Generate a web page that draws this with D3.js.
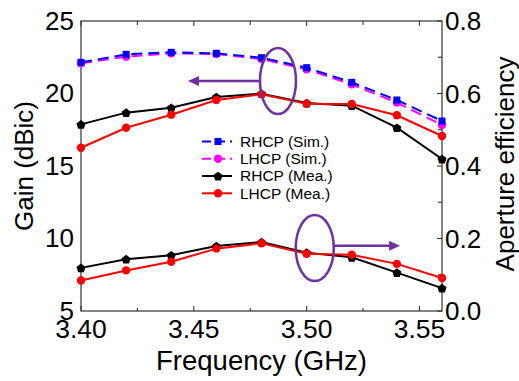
<!DOCTYPE html>
<html>
<head>
<meta charset="utf-8">
<script src="https://cdn.jsdelivr.net/npm/d3@7"></script>
<style>
html,body{margin:0;padding:0;background:#fff;}
svg{display:block;font-family:Arial,"Liberation Sans",sans-serif;}
</style>
</head>
<body>
<svg id="chart" width="519" height="381"></svg>
<script>
// ---- data ----
const freq = [3.40, 3.42, 3.44, 3.46, 3.48, 3.50, 3.52, 3.54, 3.56];
const rhcpSim = [22.15, 22.70, 22.84, 22.77, 22.47, 21.78, 20.77, 19.55, 18.10];
const lhcpSim = [22.08, 22.54, 22.77, 22.72, 22.38, 21.67, 20.63, 19.37, 17.83];
const rhcpMea = [17.87, 18.68, 19.02, 19.76, 19.99, 19.34, 19.16, 17.64, 15.48];
const lhcpMea = [16.26, 17.64, 18.54, 19.55, 19.94, 19.30, 19.28, 18.50, 17.07];
const rhcpEff = [0.119, 0.143, 0.154, 0.179, 0.190, 0.161, 0.148, 0.106, 0.063];
const lhcpEff = [0.084, 0.112, 0.136, 0.172, 0.187, 0.158, 0.155, 0.130, 0.091];
const xTicks = [3.40, 3.45, 3.50, 3.55];
const xTickLabels = ["3.40", "3.45", "3.50", "3.55"];
const yLeftTicks = [5, 10, 15, 20, 25];
const yRightTicks = [0.0, 0.2, 0.4, 0.6, 0.8];
const legendLabels = ["RHCP (Sim.)", "LHCP (Sim.)", "RHCP (Mea.)", "LHCP (Mea.)"];

// ---- layout ----
const L = 81, R = 442, T = 21, B = 311;
const svg = d3.select("#chart");
const x = d3.scaleLinear().domain([3.40, 3.56]).range([L, R]);
const yL = d3.scaleLinear().domain([5, 25]).range([B, T]);
const yR = d3.scaleLinear().domain([0, 0.8]).range([B, T]);

const FONT = 26;
const axisColor = "#333";

// frame
svg.append("rect").attr("x", L).attr("y", T).attr("width", R - L).attr("height", B - T)
  .attr("fill", "none").attr("stroke", axisColor).attr("stroke-width", 1.2);

// x ticks (bottom & top, inward)
const xMinor = d3.range(3.425, 3.56, 0.05);
const tickG = svg.append("g").attr("stroke", axisColor).attr("stroke-width", 1.1);
xTicks.forEach(v => {
  tickG.append("line").attr("x1", x(v)).attr("x2", x(v)).attr("y1", B).attr("y2", B - 5);
  tickG.append("line").attr("x1", x(v)).attr("x2", x(v)).attr("y1", T).attr("y2", T + 5);
});
xMinor.forEach(v => {
  tickG.append("line").attr("x1", x(v)).attr("x2", x(v)).attr("y1", B).attr("y2", B - 3);
  tickG.append("line").attr("x1", x(v)).attr("x2", x(v)).attr("y1", T).attr("y2", T + 4);
});
// right ticks
yRightTicks.forEach(v => {
  tickG.append("line").attr("x1", R).attr("x2", R - 5).attr("y1", yR(v)).attr("y2", yR(v));
});
d3.range(0.1, 0.8, 0.2).forEach(v => {
  tickG.append("line").attr("x1", R).attr("x2", R - 4).attr("y1", yR(v)).attr("y2", yR(v));
});

// tick labels
const labelG = svg.append("g").attr("font-size", FONT).attr("fill", "#000");
xTicks.forEach((v, i) => {
  labelG.append("text").attr("x", x(v)).attr("y", 338).attr("text-anchor", "middle")
    .attr("font-size", 26.5).text(xTickLabels[i]);
});
yLeftTicks.forEach(v => {
  labelG.append("text").attr("x", 74).attr("y", yL(v)).attr("dy", "0.33em").attr("text-anchor", "end").text(v);
});
yRightTicks.forEach(v => {
  labelG.append("text").attr("x", 445).attr("y", yR(v)).attr("dy", "0.35em").attr("text-anchor", "start").text(v.toFixed(1));
});

// axis titles
svg.append("text").attr("x", (L + R) / 2).attr("y", 370).attr("text-anchor", "middle")
  .attr("font-size", 27.5).text("Frequency (GHz)");
svg.append("text").attr("transform", `translate(33,${(T + B) / 2}) rotate(-90)`).attr("text-anchor", "middle")
  .attr("font-size", FONT).text("Gain (dBic)");
svg.append("text").attr("transform", `translate(514,${(T + B) / 2 - 2}) rotate(-90)`).attr("text-anchor", "middle")
  .attr("font-size", FONT).text("Aperture efficiency");

// markers
const pentagon = r => {
  const pts = d3.range(5).map(i => {
    const a = -Math.PI / 2 + i * 2 * Math.PI / 5;
    return [r * Math.cos(a), r * Math.sin(a)];
  });
  return "M" + pts.map(p => p.join(",")).join("L") + "Z";
};
function marker(g, type, color, cx, cy) {
  if (type === "square") {
    g.append("rect").attr("x", cx - 3.5).attr("y", cy - 3.5).attr("width", 7).attr("height", 7).attr("fill", color);
  } else if (type === "circle") {
    g.append("circle").attr("cx", cx).attr("cy", cy).attr("r", 4.2).attr("fill", color);
  } else {
    g.append("path").attr("transform", `translate(${cx},${cy + 0.5})`).attr("d", pentagon(4.8)).attr("fill", color);
  }
}

const series = [
  {vals: rhcpSim, y: yL, color: "#0000ff", dash: "11,6", m: "square"},
  {vals: lhcpSim, y: yL, color: "#ff00ff", dash: "11,6", m: "circle"},
  {vals: rhcpMea, y: yL, color: "#000000", dash: null, m: "pent"},
  {vals: lhcpMea, y: yL, color: "#ff0000", dash: null, m: "circle"},
  {vals: rhcpEff, y: yR, color: "#000000", dash: null, m: "pent"},
  {vals: lhcpEff, y: yR, color: "#ff0000", dash: null, m: "circle"}
];
const drawOrder = [2, 3, 4, 5, 1, 0];
const plotG = svg.append("g");
drawOrder.forEach(k => {
  const s = series[k];
  const line = d3.line().x((d, i) => x(freq[i])).y(d => s.y(d));
  plotG.append("path").attr("d", line(s.vals)).attr("fill", "none").attr("stroke", s.color)
    .attr("stroke-width", 2).attr("stroke-dasharray", s.dash);
  s.vals.forEach((v, i) => marker(plotG, s.m, s.color, x(freq[i]), s.y(v)));
});

// annotations
const purple = "#7030a0";
const annG = svg.append("g").attr("stroke", purple).attr("fill", "none").attr("stroke-width", 2.5);
annG.append("ellipse").attr("cx", x(3.4873)).attr("cy", yL(20.86)).attr("rx", 18).attr("ry", 33);
annG.append("line").attr("x1", x(3.4793)).attr("x2", x(3.4500)).attr("y1", yL(20.86)).attr("y2", yL(20.86));
svg.append("path").attr("fill", purple)
  .attr("d", `M${x(3.4474)},${yL(20.86)} l11,-5 l0,10 Z`);
annG.append("ellipse").attr("cx", x(3.5036)).attr("cy", yR(0.174)).attr("rx", 19).attr("ry", 33);
annG.append("line").attr("x1", x(3.5117)).attr("x2", x(3.5390)).attr("y1", yR(0.180)).attr("y2", yR(0.180));
svg.append("path").attr("fill", purple)
  .attr("d", `M${x(3.5414)},${yR(0.180)} l-11,-5 l0,10 Z`);

// legend
const legY = [141.5, 158.8, 176, 193.3];
const legG = svg.append("g");
legendLabels.forEach((lab, i) => {
  const s = series[i];
  const y = legY[i];
  legG.append("line").attr("x1", 202).attr("x2", 232).attr("y1", y).attr("y2", y)
    .attr("stroke", s.color).attr("stroke-width", 2).attr("stroke-dasharray", s.dash ? "9,5" : null);
  marker(legG, s.m, s.color, 218, y);
  legG.append("text").attr("x", 240).attr("y", y).attr("dy", "0.35em").attr("font-size", 15.5).text(lab);
});
</script>
</body>
</html>
